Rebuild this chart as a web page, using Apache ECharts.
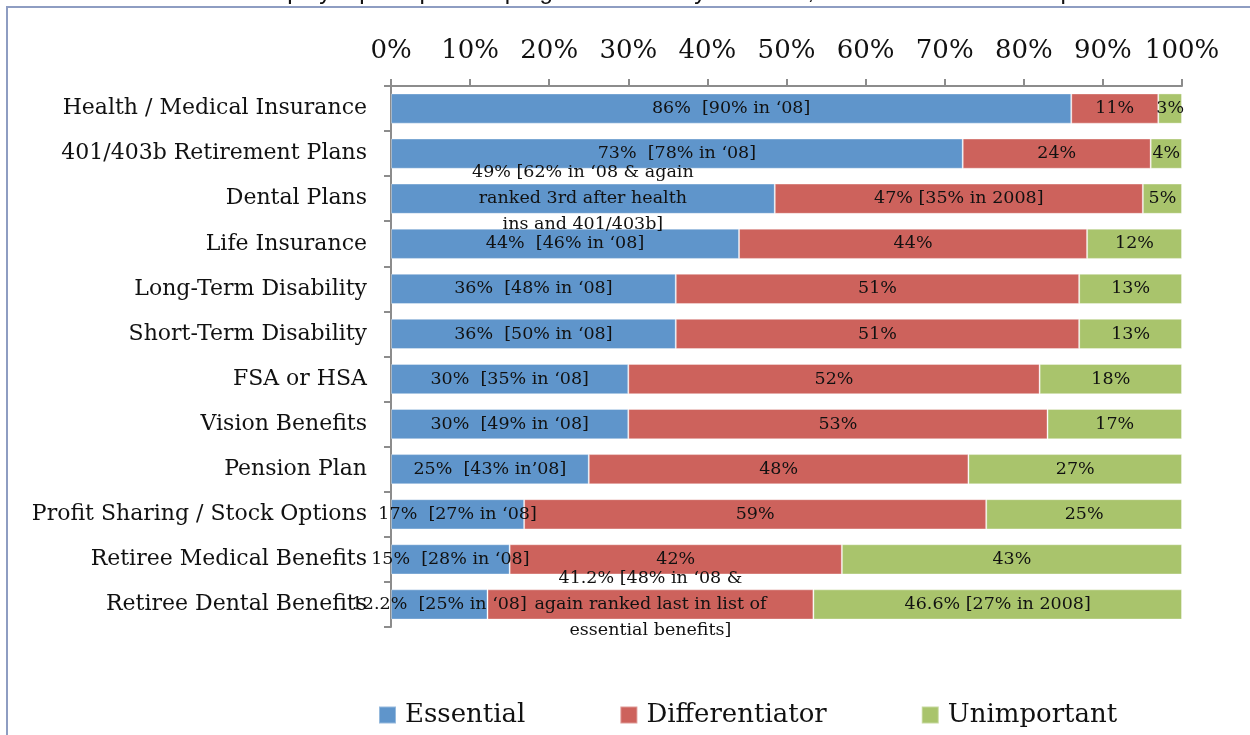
<!DOCTYPE html>
<html>
<head>
<meta charset="utf-8">
<script src="https://cdn.jsdelivr.net/npm/echarts@6/dist/echarts.min.js"></script>
<style>
html,body{margin:0;padding:0;background:#fff;}
#chart{width:1250px;height:735px;}
</style>
</head>
<body>
<div id="chart"></div>
<script>
const categories = [
  "Health / Medical Insurance",
  "401/403b Retirement Plans",
  "Dental Plans",
  "Life Insurance",
  "Long-Term Disability",
  "Short-Term Disability",
  "FSA or HSA",
  "Vision Benefits",
  "Pension Plan",
  "Profit Sharing / Stock Options",
  "Retiree Medical Benefits",
  "Retiree Dental Benefits"
];
const essential      = [86, 73, 49, 44, 36, 36, 30, 30, 25, 17, 15, 12.2];
const differentiator = [11, 24, 47, 44, 51, 51, 52, 53, 48, 59, 42, 41.2];
const unimportant    = [3, 4, 5, 12, 13, 13, 18, 17, 27, 25, 43, 46.6];

const essentialLabels = [
  "86%  [90% in \u201808]",
  "73%  [78% in \u201808]",
  "49% [62% in \u201808 & again\nranked 3rd after health\nins and 401/403b]",
  "44%  [46% in \u201808]",
  "36%  [48% in \u201808]",
  "36%  [50% in \u201808]",
  "30%  [35% in \u201808]",
  "30%  [49% in \u201808]",
  "25%  [43% in\u201908]",
  "17%  [27% in \u201808]",
  "15%  [28% in \u201808]",
  "12.2%  [25% in \u201808]"
];
const differentiatorLabels = [
  "11%", "24%", "47% [35% in 2008]", "44%", "51%", "51%", "52%", "53%", "48%", "59%", "42%",
  "41.2% [48% in \u201808 &\nagain ranked last in list of\nessential benefits]"
];
const unimportantLabels = [
  "3%", "4%", "5%", "12%", "13%", "13%", "18%", "17%", "27%", "25%", "43%", "46.6% [27% in 2008]"
];
const xTicks = ["0%","10%","20%","30%","40%","50%","60%","70%","80%","90%","100%"];
const titleText = "Employer perception of programs: are they essential, a differentiator or unimportant?";

// 100% stacked: each row's parts as a share of the row total
const totals = categories.map((c, i) => essential[i] + differentiator[i] + unimportant[i]);
const share = arr => arr.map((v, i) => v / totals[i] * 100);

const serif = "DejaVu Serif";
const chart = echarts.init(document.getElementById('chart'));

function mkSeries(name, values, labels, color) {
  return {
    name: name,
    type: 'bar',
    stack: 'total',
    barCategoryGap: '33%',
    data: share(values),
    itemStyle: { color: color, borderColor: 'rgba(255,255,255,0.35)', borderWidth: 1 },
    label: {
      show: true,
      position: 'inside',
      color: '#111',
      fontFamily: serif,
      fontSize: 17.5,
      lineHeight: 26,
      formatter: p => labels[p.dataIndex]
    },
    emphasis: { disabled: true }
  };
}

chart.setOption({
  animation: false,
  backgroundColor: '#fff',
  graphic: [
    { type: 'rect', shape: { x: 7, y: 7, width: 1300, height: 800 },
      style: { fill: 'none', stroke: '#8E9DC2', lineWidth: 2 }, z: -10 },
    { type: 'text', x: 700, y: 4,
      style: { text: titleText, textAlign: 'center', textVerticalAlign: 'bottom',
               fontFamily: 'Liberation Sans', fontSize: 24, fill: '#111' } }
  ],
  legend: {
    top: 697,
    left: 373,
    itemWidth: 17,
    itemHeight: 17,
    itemGap: 94,
    icon: 'rect',
    textStyle: { fontFamily: serif, fontSize: 26, color: '#111', padding: [0, 0, 0, 4] },
    data: ['Essential', 'Differentiator', 'Unimportant']
  },
  grid: { left: 391, right: 68, top: 86, height: 541, containLabel: false },
  xAxis: {
    type: 'value',
    position: 'top',
    min: 0,
    max: 100,
    interval: 10,
    axisLine: { show: true, lineStyle: { color: '#8c8c8c', width: 2 } },
    axisTick: { show: true, inside: false, length: 7, lineStyle: { color: '#8c8c8c', width: 2 } },
    splitLine: { show: false },
    axisLabel: {
      margin: 22,
      fontFamily: serif,
      fontSize: 26,
      color: '#111',
      formatter: (v) => xTicks[Math.round(v / 10)]
    }
  },
  yAxis: {
    type: 'category',
    inverse: true,
    data: categories,
    axisLine: { show: true, lineStyle: { color: '#8c8c8c', width: 2 } },
    axisTick: { show: true, length: 7, alignWithLabel: false, lineStyle: { color: '#8c8c8c', width: 2 } },
    axisLabel: { margin: 24, fontFamily: serif, fontSize: 22, color: '#111' }
  },
  series: [
    mkSeries('Essential', essential, essentialLabels, '#5F95CB'),
    mkSeries('Differentiator', differentiator, differentiatorLabels, '#CD625C'),
    mkSeries('Unimportant', unimportant, unimportantLabels, '#A9C46C')
  ]
});
</script>
</body>
</html>
